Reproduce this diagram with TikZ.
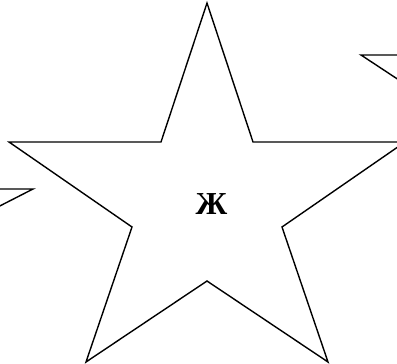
\documentclass[tikz,border=0pt]{standalone}
\usepackage{fontspec}
\setmainfont{Liberation Serif}
\usetikzlibrary{positioning}

\begin{document}
\begin{tikzpicture}[
        x = 1pt, y = -1pt,
        star edge/.style = {draw = black, line width = 1.4pt, line join = miter},
        letter/.style = {font = \bfseries\fontsize{32}{32}\selectfont, inner sep = 0pt}
    ]

      \useasboundingbox (0,0) rectangle (397,364);

      % big star
      \coordinate (top) at (207,3);
      \coordinate (in_ul) at (161,142);
      \coordinate (tip_l) at (9,142);
      \coordinate (in_ll) at (132,227);
      \coordinate (tip_bl) at (86,362);
      \coordinate (in_b) at (207,281);
      \coordinate (tip_br) at (328,362);
      \coordinate (in_lr) at (282,227);
      \coordinate (tip_r) at (405,142);
      \coordinate (in_ur) at (253,142);

      \draw[star edge] (top) -- (in_ul) -- (tip_l) -- (in_ll) -- (tip_bl) -- (in_b)
            -- (tip_br) -- (in_lr) -- (tip_r) -- (in_ur) -- cycle;

      \node[letter] (mark) at (211.5,204) {Ж};

      % neighbour stars, cut off
      \coordinate (left_in) at (-10,189);
      \coordinate (left_tip) at (33,189);
      \coordinate (left_low) at (-10,211);
      \draw[star edge] (left_in) -- (left_tip) -- (left_low);

      \coordinate (right_in) at (405,55);
      \coordinate (right_tip) at (361,55);
      \coordinate (right_low) at (405,84);
      \draw[star edge] (right_in) -- (right_tip) -- (right_low);

\end{tikzpicture}
\end{document}
